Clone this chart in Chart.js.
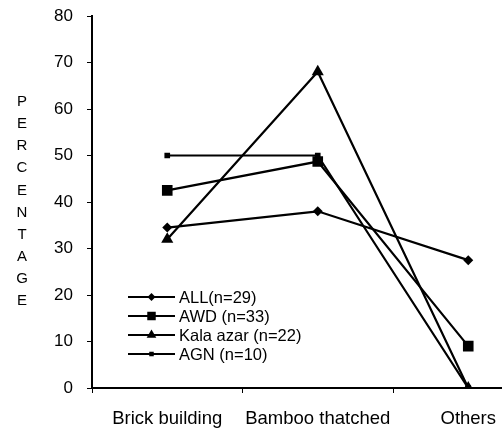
<!DOCTYPE html>
<html>
<head>
<meta charset="utf-8">
<script src="https://cdn.jsdelivr.net/npm/chart.js@4"></script>
<style>
html,body{margin:0;padding:0;background:#fff;overflow:hidden;width:502px;height:431px;}
canvas{display:block;}
</style>
</head>
<body>
<canvas id="c" width="551" height="431"></canvas>
<script>
const categories = ['Brick building', 'Bamboo thatched', 'Others'];
const seriesLabels = ['ALL(n=29)', 'AWD (n=33)', 'Kala azar (n=22)', 'AGN (n=10)'];
const allValues = [34.5, 38, 27.5];
const awdValues = [42.5, 48.7, 9];
const kalaValues = [32, 68, 0];
const agnValues = [50, 50, 0];
const yTicks = [0, 10, 20, 30, 40, 50, 60, 70, 80];
const yTitle = 'PERCENTAGE';

const styles = [
  {pointStyle: 'rectRot', pointRadius: 5},
  {pointStyle: 'rect', pointRadius: 7.5},
  {pointStyle: 'triangle', pointRadius: 7},
  {pointStyle: 'rect', pointRadius: 4}
];
const values = [allValues, awdValues, kalaValues, agnValues];

function drawMarker(ctx, style, r, x, y) {
  ctx.beginPath();
  if (style === 'rect') {
    const s = Math.SQRT1_2 * r;
    ctx.rect(x - s, y - s, 2 * s, 2 * s);
  } else if (style === 'rectRot') {
    ctx.moveTo(x, y - r); ctx.lineTo(x + r, y); ctx.lineTo(x, y + r); ctx.lineTo(x - r, y); ctx.closePath();
  } else if (style === 'triangle') {
    ctx.moveTo(x, y - r);
    ctx.lineTo(x + r * Math.sin(Math.PI / 3), y + r * 0.5);
    ctx.lineTo(x - r * Math.sin(Math.PI / 3), y + r * 0.5);
    ctx.closePath();
  }
  ctx.fill();
}

const overlay = {
  id: 'overlay',
  afterDatasetsDraw(chart) {
    const ctx = chart.ctx;
    ctx.save();
    const x0 = 128, x1 = 175, tx = 179;
    const rows = [297, 316, 335, 354];
    ctx.font = '16.5px "Liberation Sans", Arial, sans-serif';
    ctx.textBaseline = 'middle';
    ctx.textAlign = 'left';
    chart.data.datasets.forEach((ds, i) => {
      const y = rows[i];
      ctx.strokeStyle = '#000'; ctx.fillStyle = '#000'; ctx.lineWidth = 2;
      ctx.beginPath(); ctx.moveTo(x0, y); ctx.lineTo(x1, y); ctx.stroke();
      const r = ds.pointRadius * 0.8;
      drawMarker(ctx, ds.pointStyle, r, (x0 + x1) / 2, y);
      ctx.fillText(ds.label, tx, y + 1);
    });
    ctx.font = '15px "Liberation Sans", Arial, sans-serif';
    ctx.textAlign = 'center';
    yTitle.split('').forEach((ch, i) => {
      ctx.fillText(ch, 22, 102 + i * 22.1);
    });
    ctx.restore();
  }
};

new Chart(document.getElementById('c'), {
  type: 'line',
  data: {
    labels: categories,
    datasets: values.map((v, i) => ({
      label: seriesLabels[i],
      data: v,
      borderColor: '#000',
      backgroundColor: '#000',
      pointBackgroundColor: '#000',
      pointBorderColor: '#000',
      borderWidth: 2.2,
      pointBorderWidth: 0,
      pointStyle: styles[i].pointStyle,
      pointRadius: styles[i].pointRadius,
      tension: 0,
      fill: false
    }))
  },
  options: {
    responsive: false,
    animation: false,
    devicePixelRatio: 1,
    layout: {padding: {top: 16, left: 0, right: 0, bottom: 0}},
    plugins: {legend: {display: false}, tooltip: {enabled: false}, title: {display: false}},
    scales: {
      x: {
        type: 'category',
        offset: true,
        afterFit: s => { s.height = 43; s.paddingLeft = 0; s.paddingRight = 0; },
        grid: {display: true, drawOnChartArea: false, offset: true, tickLength: 5, color: '#000', lineWidth: 1},
        border: {display: true, color: '#000', width: 2},
        ticks: {color: '#000', padding: 15, maxRotation: 0, minRotation: 0, autoSkip: false,
          font: {family: '"Liberation Sans", Arial, sans-serif', size: 18.5}}
      },
      y: {
        min: 0, max: 80,
        afterFit: s => { s.width = 92; s.paddingTop = 0; s.paddingBottom = 0; },
        afterBuildTicks: s => { s.ticks = yTicks.map(v => ({value: v})); },
        grid: {display: true, drawOnChartArea: false, tickLength: 5, color: '#000', lineWidth: 1},
        border: {display: true, color: '#000', width: 2},
        ticks: {color: '#000', padding: 14, font: {family: '"Liberation Sans", Arial, sans-serif', size: 17}}
      }
    }
  },
  plugins: [overlay]
});
</script>
</body>
</html>
